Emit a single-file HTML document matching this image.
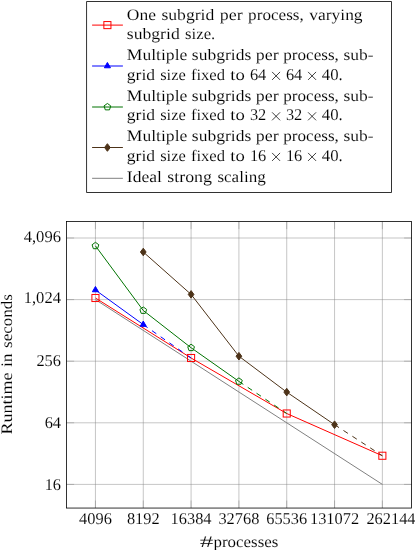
<!DOCTYPE html>
<html><head><meta charset="utf-8"><title>Strong scaling</title>
<style>
html,body{margin:0;padding:0;background:#fff;}
svg{display:block;}
text{font-family:"Liberation Serif",serif;stroke:#fff;stroke-width:0.1px;text-rendering:geometricPrecision;}
</style></head><body>
<svg width="415" height="550" viewBox="0 0 415 550">
<rect x="0" y="0" width="415" height="550" fill="#fff"/>
<rect x="86.65" y="1.6" width="304.80" height="190.85" fill="#fff" stroke="#000" stroke-width="0.8"/>
<path d="M92.10 25.10L122.90 25.10" fill="none" stroke="#ff0000" stroke-width="1.0"/>
<rect x="103.86" y="21.56" width="7.08" height="7.08" fill="none" stroke="#ff0000" stroke-width="1.0"/>
<path d="M92.10 66.00L122.90 66.00" fill="none" stroke="#0000ff" stroke-width="1.0"/>
<polygon points="107.40,62.46 110.47,67.77 104.33,67.77" fill="#0000ff" stroke="#0000ff" stroke-width="1.0"/>
<path d="M92.10 107.00L122.90 107.00" fill="none" stroke="#007300" stroke-width="1.0"/>
<polygon points="107.40,103.46 110.77,105.91 109.48,109.86 105.32,109.86 104.03,105.91" fill="none" stroke="#007300" stroke-width="1.0"/>
<path d="M92.10 147.50L122.90 147.50" fill="none" stroke="#4d3319" stroke-width="1.0"/>
<polygon points="107.40,143.70 110.25,147.50 107.40,151.30 104.55,147.50" fill="#4d3319" stroke="#4d3319" stroke-width="1.0"/>
<path d="M92.10 178.30L122.90 178.30" fill="none" stroke="#808080" stroke-width="1.0"/>
<g font-family="Liberation Serif, serif" font-size="16.5" fill="#000" style="filter:grayscale(1)">
<text x="126.80" y="19.90" font-size="16" textLength="29.11" lengthAdjust="spacingAndGlyphs">One</text>
<text x="161.41" y="19.90" font-size="16" textLength="52.92" lengthAdjust="spacingAndGlyphs">subgrid</text>
<text x="219.83" y="19.90" font-size="16" textLength="22.79" lengthAdjust="spacingAndGlyphs">per</text>
<text x="248.12" y="19.90" font-size="16" textLength="55.70" lengthAdjust="spacingAndGlyphs">process,</text>
<text x="309.32" y="19.90" font-size="16" textLength="53.28" lengthAdjust="spacingAndGlyphs">varying</text>
<text x="126.80" y="39.40" font-size="16" textLength="52.92" lengthAdjust="spacingAndGlyphs">subgrid</text>
<text x="185.11" y="39.40" font-size="16" textLength="30.09" lengthAdjust="spacingAndGlyphs">size.</text>
<text x="126.80" y="60.40" font-size="16" textLength="60.51" lengthAdjust="spacingAndGlyphs">Multiple</text>
<text x="191.89" y="60.40" font-size="16" textLength="59.37" lengthAdjust="spacingAndGlyphs">subgrids</text>
<text x="255.84" y="60.40" font-size="16" textLength="22.79" lengthAdjust="spacingAndGlyphs">per</text>
<text x="283.21" y="60.40" font-size="16" textLength="55.70" lengthAdjust="spacingAndGlyphs">process,</text>
<text x="343.49" y="60.40" font-size="16" textLength="30.11" lengthAdjust="spacingAndGlyphs">sub-</text>
<text x="126.80" y="79.90" font-size="16" textLength="28.26" lengthAdjust="spacingAndGlyphs">grid</text>
<text x="160.22" y="79.90" font-size="16" textLength="25.54" lengthAdjust="spacingAndGlyphs">size</text>
<text x="190.91" y="79.90" font-size="16" textLength="34.12" lengthAdjust="spacingAndGlyphs">fixed</text>
<text x="230.19" y="79.90" font-size="16" textLength="14.56" lengthAdjust="spacingAndGlyphs">to</text>
<text x="249.90" y="79.90" textLength="16.37" lengthAdjust="spacingAndGlyphs">64</text>
<path d="M272.08 71.92L280.08 79.92M272.08 79.92L280.08 71.92" stroke="#000" stroke-width="0.75" fill="none"/>
<text x="285.89" y="79.90" textLength="16.37" lengthAdjust="spacingAndGlyphs">64</text>
<path d="M308.07 71.92L316.07 79.92M308.07 79.92L316.07 71.92" stroke="#000" stroke-width="0.75" fill="none"/>
<text x="321.88" y="79.90" textLength="20.92" lengthAdjust="spacingAndGlyphs">40.</text>
<text x="126.80" y="100.90" font-size="16" textLength="60.51" lengthAdjust="spacingAndGlyphs">Multiple</text>
<text x="191.89" y="100.90" font-size="16" textLength="59.37" lengthAdjust="spacingAndGlyphs">subgrids</text>
<text x="255.84" y="100.90" font-size="16" textLength="22.79" lengthAdjust="spacingAndGlyphs">per</text>
<text x="283.21" y="100.90" font-size="16" textLength="55.70" lengthAdjust="spacingAndGlyphs">process,</text>
<text x="343.49" y="100.90" font-size="16" textLength="30.11" lengthAdjust="spacingAndGlyphs">sub-</text>
<text x="126.80" y="120.30" font-size="16" textLength="28.26" lengthAdjust="spacingAndGlyphs">grid</text>
<text x="160.22" y="120.30" font-size="16" textLength="25.54" lengthAdjust="spacingAndGlyphs">size</text>
<text x="190.91" y="120.30" font-size="16" textLength="34.12" lengthAdjust="spacingAndGlyphs">fixed</text>
<text x="230.19" y="120.30" font-size="16" textLength="14.56" lengthAdjust="spacingAndGlyphs">to</text>
<text x="249.90" y="120.30" textLength="16.37" lengthAdjust="spacingAndGlyphs">32</text>
<path d="M272.08 112.32L280.08 120.32M272.08 120.32L280.08 112.32" stroke="#000" stroke-width="0.75" fill="none"/>
<text x="285.89" y="120.30" textLength="16.37" lengthAdjust="spacingAndGlyphs">32</text>
<path d="M308.07 112.32L316.07 120.32M308.07 120.32L316.07 112.32" stroke="#000" stroke-width="0.75" fill="none"/>
<text x="321.88" y="120.30" textLength="20.92" lengthAdjust="spacingAndGlyphs">40.</text>
<text x="126.80" y="141.40" font-size="16" textLength="60.51" lengthAdjust="spacingAndGlyphs">Multiple</text>
<text x="191.89" y="141.40" font-size="16" textLength="59.37" lengthAdjust="spacingAndGlyphs">subgrids</text>
<text x="255.84" y="141.40" font-size="16" textLength="22.79" lengthAdjust="spacingAndGlyphs">per</text>
<text x="283.21" y="141.40" font-size="16" textLength="55.70" lengthAdjust="spacingAndGlyphs">process,</text>
<text x="343.49" y="141.40" font-size="16" textLength="30.11" lengthAdjust="spacingAndGlyphs">sub-</text>
<text x="126.80" y="160.90" font-size="16" textLength="28.26" lengthAdjust="spacingAndGlyphs">grid</text>
<text x="160.22" y="160.90" font-size="16" textLength="25.54" lengthAdjust="spacingAndGlyphs">size</text>
<text x="190.91" y="160.90" font-size="16" textLength="34.12" lengthAdjust="spacingAndGlyphs">fixed</text>
<text x="230.19" y="160.90" font-size="16" textLength="14.56" lengthAdjust="spacingAndGlyphs">to</text>
<text x="249.90" y="160.90" textLength="16.37" lengthAdjust="spacingAndGlyphs">16</text>
<path d="M272.08 152.92L280.08 160.92M272.08 160.92L280.08 152.92" stroke="#000" stroke-width="0.75" fill="none"/>
<text x="285.89" y="160.90" textLength="16.37" lengthAdjust="spacingAndGlyphs">16</text>
<path d="M308.07 152.92L316.07 160.92M308.07 160.92L316.07 152.92" stroke="#000" stroke-width="0.75" fill="none"/>
<text x="321.88" y="160.90" textLength="20.92" lengthAdjust="spacingAndGlyphs">40.</text>
<text x="126.80" y="182.30" font-size="16" textLength="35.02" lengthAdjust="spacingAndGlyphs">Ideal</text>
<text x="167.25" y="182.30" font-size="16" textLength="44.71" lengthAdjust="spacingAndGlyphs">strong</text>
<text x="217.40" y="182.30" font-size="16" textLength="48.30" lengthAdjust="spacingAndGlyphs">scaling</text>
<text x="23.70" y="241.60" textLength="37.30" lengthAdjust="spacingAndGlyphs">4,096</text>
<text x="23.70" y="303.20" textLength="37.30" lengthAdjust="spacingAndGlyphs">1,024</text>
<text x="36.44" y="366.33" textLength="24.56" lengthAdjust="spacingAndGlyphs">256</text>
<text x="44.63" y="427.93" textLength="16.37" lengthAdjust="spacingAndGlyphs">64</text>
<text x="44.63" y="489.53" textLength="16.37" lengthAdjust="spacingAndGlyphs">16</text>
<text x="79.08" y="524.00" textLength="32.75" lengthAdjust="spacingAndGlyphs">4096</text>
<text x="126.90" y="524.00" textLength="32.75" lengthAdjust="spacingAndGlyphs">8192</text>
<text x="170.62" y="524.00" textLength="40.93" lengthAdjust="spacingAndGlyphs">16384</text>
<text x="218.44" y="524.00" textLength="40.93" lengthAdjust="spacingAndGlyphs">32768</text>
<text x="266.26" y="524.00" textLength="40.93" lengthAdjust="spacingAndGlyphs">65536</text>
<text x="309.99" y="524.00" textLength="49.12" lengthAdjust="spacingAndGlyphs">131072</text>
<text x="366.44" y="524.00" textLength="49.12" lengthAdjust="spacingAndGlyphs">262144</text>
<text x="199.85" y="546.50" font-size="16" textLength="13.64" lengthAdjust="spacingAndGlyphs">#</text>
<text x="213.48" y="546.50" font-size="16" textLength="64.87" lengthAdjust="spacingAndGlyphs">processes</text>
<text x="12.50" y="434.60" font-size="16" textLength="62.09" lengthAdjust="spacingAndGlyphs" transform="rotate(-90 12.50 434.60)">Runtime</text>
<text x="12.50" y="367.06" font-size="16" textLength="13.66" lengthAdjust="spacingAndGlyphs" transform="rotate(-90 12.50 367.06)">in</text>
<text x="12.50" y="347.95" font-size="16" textLength="53.83" lengthAdjust="spacingAndGlyphs" transform="rotate(-90 12.50 347.95)">seconds</text>
</g>
<path d="M95.45 221.55V508.05" stroke="#808080" stroke-width="0.45" fill="none"/>
<path d="M143.27 221.55V508.05" stroke="#808080" stroke-width="0.45" fill="none"/>
<path d="M191.09 221.55V508.05" stroke="#808080" stroke-width="0.45" fill="none"/>
<path d="M238.91 221.55V508.05" stroke="#808080" stroke-width="0.45" fill="none"/>
<path d="M286.73 221.55V508.05" stroke="#808080" stroke-width="0.45" fill="none"/>
<path d="M334.55 221.55V508.05" stroke="#808080" stroke-width="0.45" fill="none"/>
<path d="M382.37 221.55V508.05" stroke="#808080" stroke-width="0.45" fill="none"/>
<path d="M66.55 238.00H411.6" stroke="#808080" stroke-width="0.45" fill="none"/>
<path d="M66.55 299.60H411.6" stroke="#808080" stroke-width="0.45" fill="none"/>
<path d="M66.55 361.20H411.6" stroke="#808080" stroke-width="0.45" fill="none"/>
<path d="M66.55 422.80H411.6" stroke="#808080" stroke-width="0.45" fill="none"/>
<path d="M66.55 484.40H411.6" stroke="#808080" stroke-width="0.45" fill="none"/>
<path d="M95.45 221.55v7.55M95.45 508.05v-7.55" stroke="#808080" stroke-width="0.45" fill="none"/>
<path d="M143.27 221.55v7.55M143.27 508.05v-7.55" stroke="#808080" stroke-width="0.45" fill="none"/>
<path d="M191.09 221.55v7.55M191.09 508.05v-7.55" stroke="#808080" stroke-width="0.45" fill="none"/>
<path d="M238.91 221.55v7.55M238.91 508.05v-7.55" stroke="#808080" stroke-width="0.45" fill="none"/>
<path d="M286.73 221.55v7.55M286.73 508.05v-7.55" stroke="#808080" stroke-width="0.45" fill="none"/>
<path d="M334.55 221.55v7.55M334.55 508.05v-7.55" stroke="#808080" stroke-width="0.45" fill="none"/>
<path d="M382.37 221.55v7.55M382.37 508.05v-7.55" stroke="#808080" stroke-width="0.45" fill="none"/>
<path d="M66.55 238.00h7.55M411.6 238.00h-7.55" stroke="#808080" stroke-width="0.45" fill="none"/>
<path d="M66.55 299.60h7.55M411.6 299.60h-7.55" stroke="#808080" stroke-width="0.45" fill="none"/>
<path d="M66.55 361.20h7.55M411.6 361.20h-7.55" stroke="#808080" stroke-width="0.45" fill="none"/>
<path d="M66.55 422.80h7.55M411.6 422.80h-7.55" stroke="#808080" stroke-width="0.45" fill="none"/>
<path d="M66.55 484.40h7.55M411.6 484.40h-7.55" stroke="#808080" stroke-width="0.45" fill="none"/>
<clipPath id="c"><rect x="66.55" y="221.55" width="345.05" height="286.50"/></clipPath>
<g clip-path="url(#c)">
<path d="M95.45 298.00L191.09 358.00L286.73 413.50L382.37 455.75" fill="none" stroke="#ff0000" stroke-width="1.0"/>
<path d="M95.45 290.00L143.27 324.60" fill="none" stroke="#0000ff" stroke-width="1.0"/>
<path d="M143.27 324.60L191.09 358.00" fill="none" stroke="#0000ff" stroke-width="1.0" stroke-dasharray="5.31 5.31"/>
<path d="M95.45 245.85L143.27 310.50L191.09 347.75L238.91 381.40" fill="none" stroke="#007300" stroke-width="1.0"/>
<path d="M238.91 381.40L286.73 413.50" fill="none" stroke="#007300" stroke-width="1.0" stroke-dasharray="5.31 5.31"/>
<path d="M143.27 252.00L191.09 294.40L238.91 356.20L286.73 392.10L334.55 424.70" fill="none" stroke="#4d3319" stroke-width="1.0"/>
<path d="M334.55 424.70L382.37 455.75" fill="none" stroke="#4d3319" stroke-width="1.0" stroke-dasharray="5.31 5.31"/>
<path d="M95.45 299.60L382.37 484.40" fill="none" stroke="#808080" stroke-width="1.0"/>
</g>
<rect x="91.91" y="294.46" width="7.08" height="7.08" fill="none" stroke="#ff0000" stroke-width="1.0"/>
<rect x="187.55" y="354.46" width="7.08" height="7.08" fill="none" stroke="#ff0000" stroke-width="1.0"/>
<rect x="283.19" y="409.96" width="7.08" height="7.08" fill="none" stroke="#ff0000" stroke-width="1.0"/>
<rect x="378.83" y="452.21" width="7.08" height="7.08" fill="none" stroke="#ff0000" stroke-width="1.0"/>
<polygon points="95.45,286.46 98.52,291.77 92.38,291.77" fill="#0000ff" stroke="#0000ff" stroke-width="1.0"/>
<polygon points="143.27,321.06 146.34,326.37 140.20,326.37" fill="#0000ff" stroke="#0000ff" stroke-width="1.0"/>
<polygon points="95.45,242.31 98.82,244.76 97.53,248.71 93.37,248.71 92.08,244.76" fill="none" stroke="#007300" stroke-width="1.0"/>
<polygon points="143.27,306.96 146.64,309.41 145.35,313.36 141.19,313.36 139.90,309.41" fill="none" stroke="#007300" stroke-width="1.0"/>
<polygon points="191.09,344.21 194.46,346.66 193.17,350.61 189.01,350.61 187.72,346.66" fill="none" stroke="#007300" stroke-width="1.0"/>
<polygon points="238.91,377.86 242.28,380.31 240.99,384.26 236.83,384.26 235.54,380.31" fill="none" stroke="#007300" stroke-width="1.0"/>
<polygon points="143.27,248.20 146.12,252.00 143.27,255.80 140.42,252.00" fill="#4d3319" stroke="#4d3319" stroke-width="1.0"/>
<polygon points="191.09,290.60 193.94,294.40 191.09,298.20 188.24,294.40" fill="#4d3319" stroke="#4d3319" stroke-width="1.0"/>
<polygon points="238.91,352.40 241.76,356.20 238.91,360.00 236.06,356.20" fill="#4d3319" stroke="#4d3319" stroke-width="1.0"/>
<polygon points="286.73,388.30 289.58,392.10 286.73,395.90 283.88,392.10" fill="#4d3319" stroke="#4d3319" stroke-width="1.0"/>
<polygon points="334.55,420.90 337.40,424.70 334.55,428.50 331.70,424.70" fill="#4d3319" stroke="#4d3319" stroke-width="1.0"/>
<rect x="66.55" y="221.55" width="345.05" height="286.50" fill="none" stroke="#000" stroke-width="0.8"/>
</svg>
</body></html>
